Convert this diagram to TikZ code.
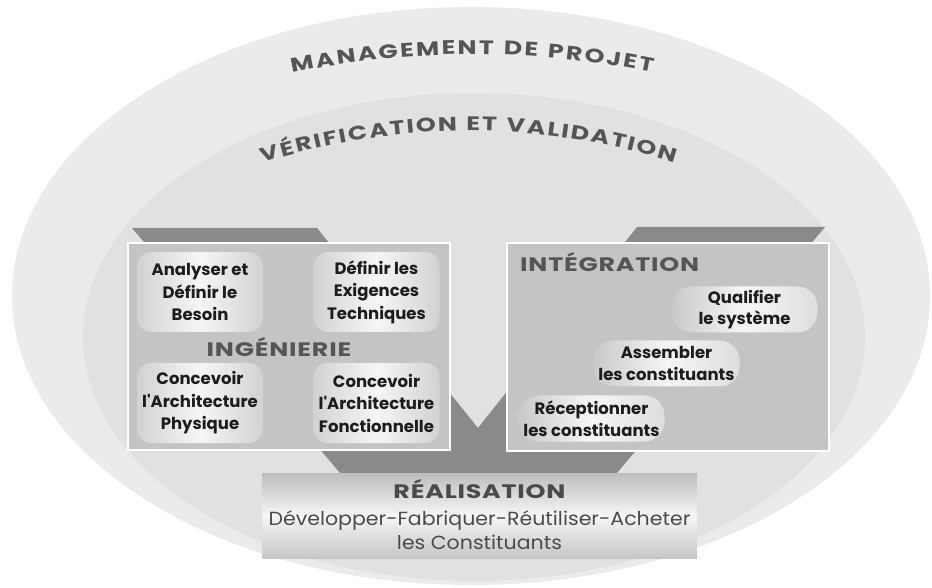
\documentclass[tikz,border=0pt]{standalone}
\usepackage{fontspec}
\setmainfont{Poppins}
\newfontfamily\headfont[FakeStretch=1.3]{Poppins}
\newfontfamily\boxheadfont[FakeStretch=1.3,LetterSpace=4]{Poppins}
\newfontfamily\subfont{Poppins}
\newfontfamily\realfont[FakeStretch=1.08]{Poppins}
\usetikzlibrary{decorations.text}
\definecolor{outerc}{HTML}{EBEBEB}
\definecolor{innerc}{HTML}{E1E1E1}
\definecolor{boxc}{HTML}{C4C4C4}
\definecolor{vdark}{HTML}{8A8A8A}
\definecolor{headc}{HTML}{555555}
\definecolor{subtxt}{HTML}{1C1C1C}
\definecolor{edgec}{HTML}{D2D2D2}
\definecolor{lightc}{HTML}{F6F6F6}
\definecolor{pillL}{HTML}{C9C9C9}
\definecolor{pillR}{HTML}{DEDEDE}
\definecolor{realT}{HTML}{BDBDBD}
\definecolor{realB}{HTML}{C6C6C6}
\definecolor{realtxt}{HTML}{4A4A4A}
\tikzset{
  bigbox/.style={fill=boxc, draw=white, line width=1.6},
  subbox/.style={rounded corners=14, left color=edgec, right color=edgec, middle color=lightc,
    minimum width=126, minimum height=80, inner sep=0, align=center, text=subtxt,
    font=\subfont\bfseries\fontsize{16.5}{22.5}\selectfont},
  pill/.style={rounded corners=20, left color=pillL, right color=pillR, middle color=lightc,
    minimum width=146, minimum height=46, inner sep=0, align=center, text=subtxt,
    font=\subfont\bfseries\fontsize{16.5}{21.5}\selectfont},
  boxhead/.style={inner sep=0, text=headc, font=\boxheadfont\bfseries\fontsize{19.5}{19.5}\selectfont},
  arctitle/.style={decorate, decoration={text along path, text align=fit to path, text color=headc}}
}
\begin{document}
\begin{tikzpicture}[x=1pt,y=1pt]
\useasboundingbox (0,0) rectangle (932,587);
\fill[white] (0,0) rectangle (932,587);
% ellipses
\fill[outerc] (471,291) ellipse [x radius=459, y radius=289];
\fill[innerc] (474,250) ellipse [x radius=391, y radius=244];
% V shape
\fill[vdark] (132,359) -- (317,359) -- (478,159) -- (637,360) -- (825,360) -- (617,114) -- (340,114) -- cycle;
% arc titles
\path[arctitle, decoration={text={|\headfont\bfseries\fontsize{19.5}{19.5}\selectfont|MANAGEMENT DE PROJET}}]
  (292,514) arc[start angle=101.8, end angle=78.3, radius=885];
\path[arctitle, decoration={text={|\headfont\bfseries\fontsize{19.5}{19.5}\selectfont|VÉRIFICATION ET VALIDATION}}]
  (263,424) arc[start angle=107.7, end angle=72.4, radius=679];
% big boxes
\draw[bigbox] (128,137) rectangle (450,344);
\draw[bigbox] (507,136) rectangle (829,344);
% ingenierie
\node[subbox] (anal) at (200,295) {Analyser et\\Définir le\\Besoin};
\node[subbox] (exig) at (376.5,295) {Définir les\\Exigences\\Techniques};
\node[subbox] (phys) at (200,184) {Concevoir\\l'Architecture\\Physique};
\node[subbox] (fonc) at (376.5,184) {Concevoir\\l'Architecture\\Fonctionnelle};
\node[boxhead, anchor=base] (ing) at (279,230) {INGÉNIERIE};
% integration
\node[boxhead, anchor=base west] (integ) at (520,315) {INTÉGRATION};
\node[pill] (qual) at (744.5,277.5) {Qualifier\\le système};
\node[pill] (assem) at (666.5,223.5) {Assembler\\les constituants};
\node[pill] (recep) at (591.5,168.5) {Réceptionner\\les constituants};
% realisation
\node[top color=realT, bottom color=realB, middle color=lightc, minimum width=435, minimum height=85, inner sep=0] (realbox) at (479.5,71.5) {};
\node[anchor=base, text=realtxt, font=\boxheadfont\bfseries\fontsize{19.5}{19.5}\selectfont] (realt) at (479.5,89) {RÉALISATION};
\node[anchor=base, text=realtxt, font=\realfont\fontsize{19}{19}\selectfont] (realdev) at (479.5,62) {Développer-Fabriquer-Réutiliser-Acheter};
\node[anchor=base, text=realtxt, font=\realfont\fontsize{19}{19}\selectfont] (realc) at (479.5,38) {les Constituants};
\end{tikzpicture}
\end{document}
